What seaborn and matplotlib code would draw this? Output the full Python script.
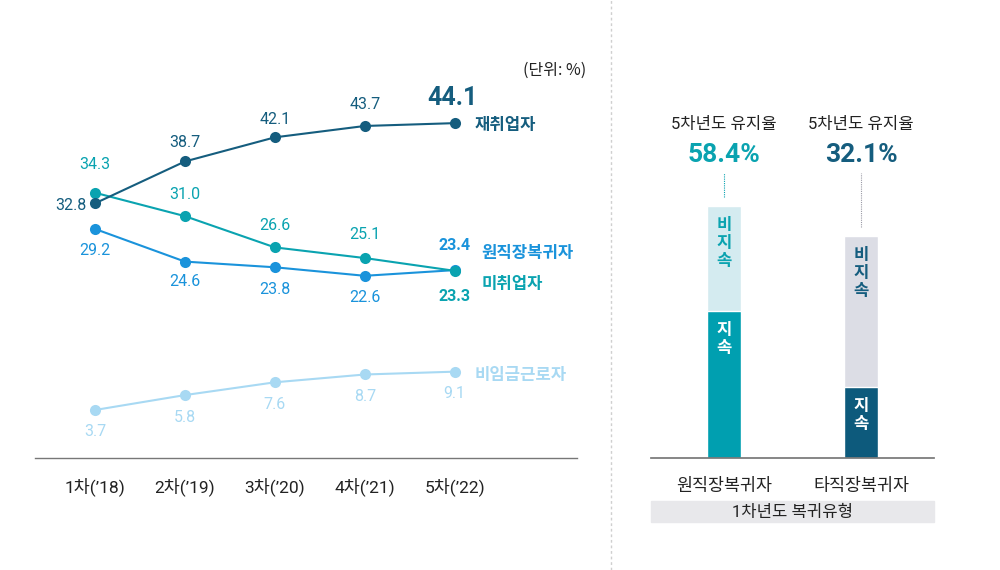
import matplotlib
matplotlib.use("Agg")
import matplotlib.pyplot as plt
from matplotlib.lines import Line2D
from matplotlib.patches import Rectangle
import pandas as pd
import seaborn as sns

# ─── Data ─────────────────────────────────────────────────────────────────────
waves = ["1차(’18)", "2차(’19)", "3차(’20)", "4차(’21)", "5차(’22)"]
reemployed = [32.8, 38.7, 42.1, 43.7, 44.1]      # 재취업자
same_job = [34.3, 31.0, 26.6, 25.1, 23.3]        # 원직장복귀자 (teal line)
unemployed = [29.2, 24.6, 23.8, 22.6, 23.4]      # 미취업자 (blue line)
non_wage = [3.7, 5.8, 7.6, 8.7, 9.1]             # 비임금근로자

return_types = ["원직장복귀자", "타직장복귀자"]
retention = [58.4, 32.1]       # 5차년도 유지율
bar_total = [100, 88]          # visual height of each stacked bar

# ─── Style ────────────────────────────────────────────────────────────────────
sns.set_theme(style="white")
FONT = ["Roboto", "Noto Sans CJK KR", "DejaVu Sans"]
KFONT = ["Noto Sans CJK KR", "DejaVu Sans"]
plt.rcParams["font.family"] = KFONT

NAVY = "#155d7e"
TEAL = "#0aa3b0"
BLUE = "#1a93db"
LIGHT = "#a8d9f3"
TEXT = "#222222"

fig = plt.figure(figsize=(10, 5.7), dpi=100)

# ─── Left: line chart ─────────────────────────────────────────────────────────
ax = fig.add_axes([0.035, 1 - 458 / 570, 0.542, 408 / 570])

series = {"비임금근로자": non_wage, "미취업자": unemployed,
          "원직장복귀자": same_job, "재취업자": reemployed}
palette = {"재취업자": NAVY, "원직장복귀자": TEAL,
           "미취업자": BLUE, "비임금근로자": LIGHT}
df = pd.DataFrame([
    {"wave": i, "series": name, "value": v}
    for name, vals in series.items() for i, v in enumerate(vals)
])
sns.lineplot(data=df, x="wave", y="value", hue="series", palette=palette,
             hue_order=list(series), marker="o", markersize=8,
             markeredgewidth=0, linewidth=1.5, legend=False, ax=ax)

ax.set_xlim(-0.667, 5.36)
ax.set_ylim(-3.06, 54.4)
ax.set_xticks(range(len(waves)))
ax.set_xticklabels(waves, fontsize=12.5, color=TEXT, family=FONT)
ax.tick_params(axis="x", length=0, pad=14)
ax.set_yticks([])
ax.set_xlabel(""); ax.set_ylabel("")
for s in ["top", "left", "right"]:
    ax.spines[s].set_visible(False)
ax.spines["bottom"].set_color("#777777")
ax.spines["bottom"].set_linewidth(1)


def lab(x, y, txt, color, dx=0, dy=0, size=11.5, weight="normal", ha="center",
        family=FONT):
    ax.annotate(txt, (x, y), xytext=(dx, dy), textcoords="offset pixels",
                ha=ha, va="center", fontsize=size, color=color,
                fontweight=weight, family=family)


# value labels
dark_dy = [0, 19, 18, 21, 0]
for i, v in enumerate(reemployed):
    if i == 0:
        lab(i, v, f"{v:.1f}", NAVY, dx=-24, dy=-2)
    elif i == 4:
        lab(i, v, f"{v:.1f}", NAVY, dx=-2, dy=25, size=18, weight="bold")
    else:
        lab(i, v, f"{v:.1f}", NAVY, dy=dark_dy[i])
teal_dy = [28, 22, 22, 24, -26]
for i, v in enumerate(same_job):
    lab(i, v, f"{v:.1f}", TEAL, dy=teal_dy[i], weight="bold" if i == 4 else "normal")
blue_dy = [-22, -20, -22, -22, 25]
for i, v in enumerate(unemployed):
    lab(i, v, f"{v:.1f}", BLUE, dy=blue_dy[i], weight="bold" if i == 4 else "normal")
for i, v in enumerate(non_wage):
    lab(i, v, f"{v:.1f}", LIGHT, dy=-22)

# series names
lab(4, reemployed[4], "재취업자", NAVY, dx=20, dy=-2, size=12, weight="bold",
    ha="left", family=KFONT)
lab(4, unemployed[4], "원직장복귀자", BLUE, dx=27, dy=17, size=12, weight="bold",
    ha="left", family=KFONT)
lab(4, same_job[4], "미취업자", TEAL, dx=27, dy=-13, size=12, weight="bold",
    ha="left", family=KFONT)
lab(4, non_wage[4], "비임금근로자", LIGHT, dx=20, dy=-3, size=12, weight="bold",
    ha="left", family=KFONT)

fig.text(586 / 1000, 1 - 70 / 570, "(단위: %)", ha="right", va="center",
         fontsize=11.5, color=TEXT)

# separator
fig.add_artist(Line2D([611 / 1000, 611 / 1000], [0, 1], transform=fig.transFigure,
                      color="#cfcfcf", linewidth=1, linestyle=(0, (2, 2))))

# ─── Right: stacked bars ──────────────────────────────────────────────────────
bx = fig.add_axes([0.651, 1 - 458 / 570, 0.283, 408 / 570])
light_cols = ["#d4ebf0", "#dcdde5"]
dark_cols = ["#009fb0", "#0d5a7c"]
head_cols = [TEAL, NAVY]
kept = [t * r / 100 for t, r in zip(bar_total, retention)]

bdf = pd.DataFrame({"type": return_types, "total": bar_total, "kept": kept})
sns.barplot(data=bdf, x="type", y="total", hue="type", palette=light_cols,
            width=0.248, saturation=1, legend=False, ax=bx)
sns.barplot(data=bdf, x="type", y="kept", hue="type", palette=dark_cols,
            width=0.248, saturation=1, legend=False, ax=bx)

bx.set_xlim(-0.533, 1.533)
bx.set_ylim(0, 161.9)
bx.set_yticks([])
bx.set_xlabel(""); bx.set_ylabel("")
bx.tick_params(axis="x", length=0, pad=14, labelsize=12.5, labelcolor=TEXT)
for s in ["top", "left", "right"]:
    bx.spines[s].set_visible(False)
bx.spines["bottom"].set_color("#777777")

px = 2.52  # pixels per unit
for i in range(len(return_types)):
    bx.text(i, (458 - 125) / px, "5차년도 유지율", ha="center", va="center",
            fontsize=12, color=TEXT, family=FONT)
    bx.text(i, (458 - 155) / px, f"{retention[i]}%", ha="center", va="center",
            fontsize=19, fontweight="bold", color=head_cols[i], family=FONT)
    bx.vlines(i, bar_total[i] + 9 / px, (458 - 173) / px,
              color=head_cols[i] if i == 0 else "#9a9aa5",
              linewidth=0.8, linestyles=(0, (1, 1)))
    bx.text(i, bar_total[i] - 10 / px, "비\n지\n속", ha="center", va="top",
            fontsize=12, fontweight="bold", color=head_cols[i], linespacing=1.0)
    bx.text(i, kept[i] - 10 / px, "지\n속", ha="center", va="top",
            fontsize=12, fontweight="bold", color="white", linespacing=1.0)

fig.add_artist(Rectangle((0.651, 1 - 522 / 570), 0.283, 21 / 570,
                         transform=fig.transFigure, color="#e8e8eb", zorder=0))
fig.text(0.7925, 1 - 512 / 570, "1차년도 복귀유형", ha="center", va="center",
         fontsize=12, color=TEXT, family=FONT)

plt.savefig("out.png", dpi=100)
plt.close()
